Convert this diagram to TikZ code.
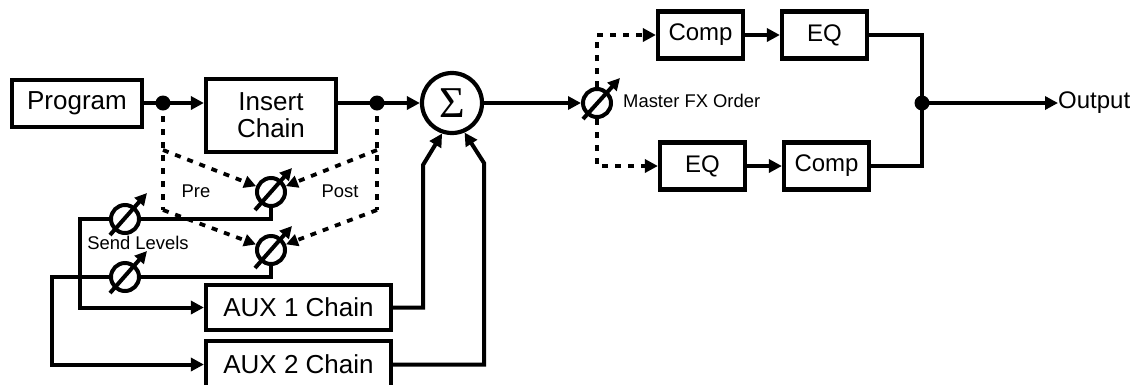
\documentclass[tikz,border=0pt]{standalone}
\usepackage{fontspec}
\setmainfont{Liberation Sans}
\newfontfamily\sigmafont{Liberation Serif}
\usetikzlibrary{arrows.meta,calc}
\begin{document}
\begin{tikzpicture}[x=1pt,y=-1pt,
  box/.style={draw,line width=4.2pt,rectangle,inner sep=0pt,font=\fontsize{26}{27}\selectfont},
  sbox/.style={draw,line width=4.2pt,rectangle,inner sep=0pt,minimum width=85pt,minimum height=47pt,font=\fontsize{24}{25}\selectfont},
  conn/.style={line width=4pt},
  tip/.style={-{Triangle[length=13pt,width=13pt]}},
  arr/.style={conn,tip},
  dsh/.style={line width=3.8pt,dash pattern=on 6pt off 7pt},
  dtip/.style={-{Triangle[length=12pt,width=12pt]}},
  knob/.style={draw,circle,line width=4pt,minimum size=28pt,inner sep=0pt,fill=white},
  dot/.style={fill,circle,inner sep=0pt,minimum size=15pt},
  lbl/.style={font=\fontsize{18.4}{19}\selectfont,inner sep=0pt}
]
\useasboundingbox (0,0) rectangle (1142,384);
\clip (0,0) rectangle (1142,384);

% main chain
\node[box,minimum width=130pt,minimum height=47pt] (prog) at (77,103.5) {Program};
\node[box,minimum width=130pt,minimum height=73pt,align=center] (ins) at (271,115.5) {Insert\\Chain};
\node[draw,circle,line width=4.2pt,minimum size=60pt,inner sep=0pt] (sum) at (452,103) {\sigmafont\fontsize{44}{44}\selectfont Σ};
\coordinate (d1) at (163,103);
\coordinate (d2) at (377,103);

% aux chains
\node[box,minimum width=185pt,minimum height=45pt] (aux1) at (298.5,307.5) {AUX 1 Chain};
\node[box,minimum width=185pt,minimum height=47pt] (aux2) at (298.5,364.5) {AUX 2 Chain};

% pre/post selector knobs
\node[knob] (kp1) at (271,192) {};
\node[knob] (kp2) at (271,250) {};
\coordinate (preA) at (163,150);
\coordinate (preB) at (163,210);
\coordinate (postA) at (377,150);
\coordinate (postB) at (377,210);

\draw[dsh] (d1) -- (preB);
\draw[dsh] (d2) -- (postB);
\draw[dsh,dtip] (preA) -- (kp1);
\draw[dsh,dtip] (preB) -- (kp2);
\draw[dsh,dtip] (postA) -- (kp1);
\draw[dsh,dtip] (postB) -- (kp2);

\draw[conn] (d1 -| prog.east) -- (d1);
\draw[arr] (d1) -- (d1 -| ins.west);
\draw[conn] (d2 -| ins.east) -- (d2);
\draw[arr] (d2) -- (sum.west);
\node[dot] at (d1) {};
\node[dot] at (d2) {};

% send routing
\coordinate (l1) at (80,219);
\coordinate (l2) at (52,277);
\draw[arr] (kp1.south) |- (l1) |- (aux1.west);
\draw[arr] (kp2.south) |- (l2) |- (aux2.west);

\node[knob] (s1) at (125,219) {};
\node[knob] (s2) at (125,277) {};

\foreach \k in {kp1,kp2}{
  \draw[line width=4pt,dtip] ($(\k)+(-16,18)$) -- ($(\k)+(21,-24)$);
}
\foreach \k in {s1,s2}{
  \draw[line width=4pt,dtip] ($(\k)+(-15,16)$) -- ($(\k)+(22,-26)$);
}

\node[lbl] (sl) at (138,243) {Send Levels};
\node[lbl] (pre) at (196,191) {Pre};
\node[lbl] (post) at (340,191) {Post};

% aux returns
\coordinate (a1) at (423,165);
\coordinate (a2) at (484,163);
\draw[arr] (aux1.east) -| (a1) -- (sum.252);
\draw[arr] (aux2.east) -| (a2) -- (sum.293);

% master FX order
\node[knob] (mk) at (597,103) {};
\draw[arr] (sum.east) -- (mk.west);
\draw[line width=4pt,dtip] ($(mk)+(-14,16)$) -- ($(mk)+(23,-25)$);
\node[lbl,anchor=west] (mfx) at (623,101) {Master FX Order};

\node[sbox] (compA) at (700.5,35) {Comp};
\node[sbox] (eqA) at (824.5,35) {EQ};
\node[sbox] (eqB) at (702.5,166) {EQ};
\node[sbox] (compB) at (826.5,166) {Comp};

\draw[dsh,tip] (mk.north) |- (compA.west);
\draw[dsh,tip] (mk.south) |- (eqB.west);
\draw[arr] (compA) -- (eqA);
\draw[arr] (eqB) -- (compB);

\coordinate (j) at (922,103);
\draw[conn] (eqA.east) -| (j);
\draw[conn] (compB.east) -| (j);
\node[dot] at (j) {};
\node[anchor=west,inner sep=0pt,font=\fontsize{24}{25}\selectfont] (out) at (1058,103) {Output};
\draw[arr] (j) -- (out.west);
\end{tikzpicture}
\end{document}
